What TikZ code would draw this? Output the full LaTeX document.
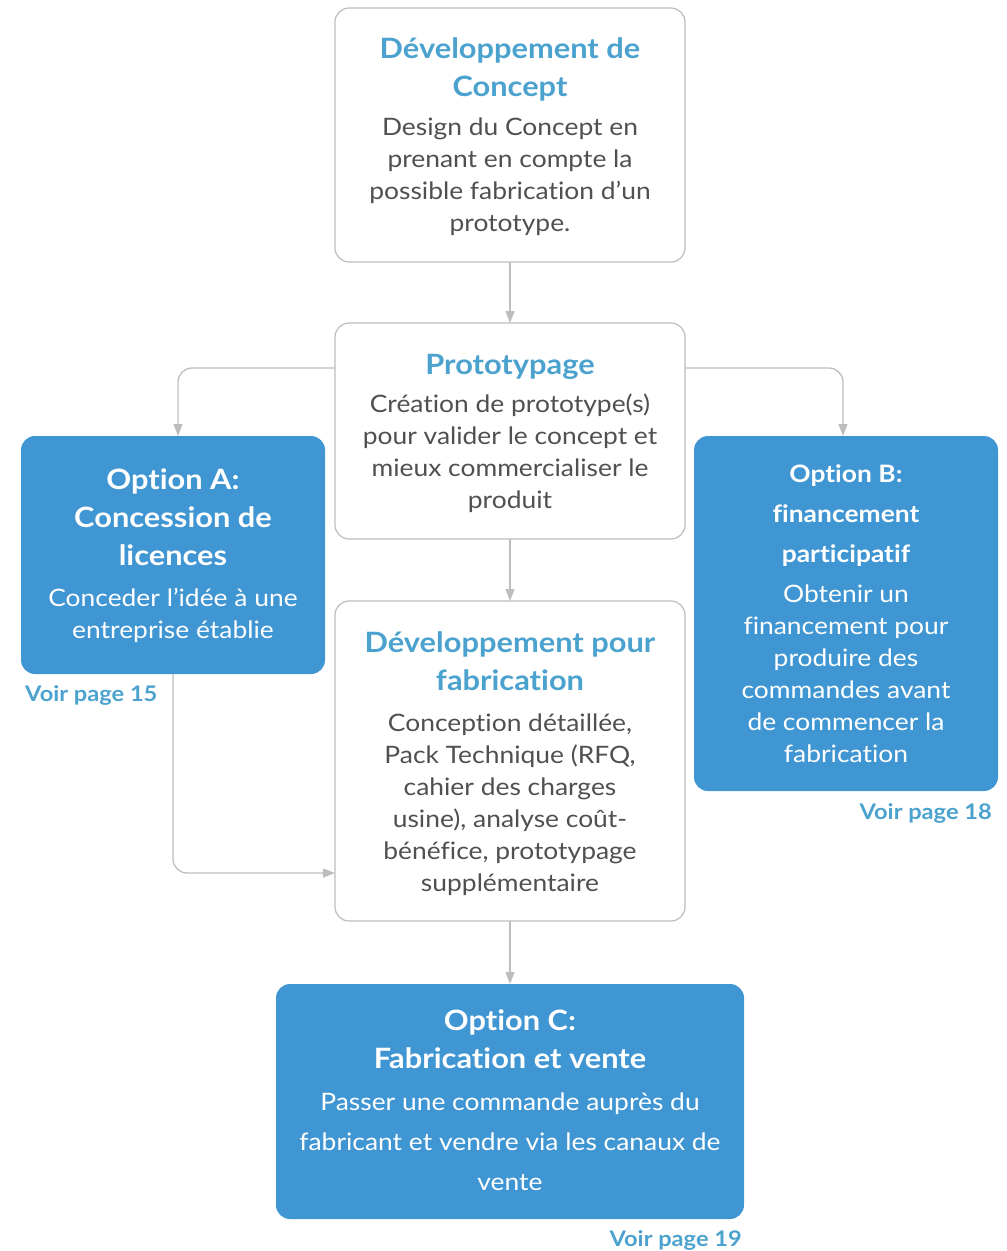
\documentclass[tikz,border=0pt]{standalone}
\usepackage{fontspec}
\setmainfont{Lato}[FakeStretch=1.1, Ligatures=NoCommon]
\usetikzlibrary{arrows.meta,calc}
\definecolor{boxblue}{HTML}{3F96D2}
\definecolor{titleblue}{HTML}{4CA2CE}
\definecolor{bodygray}{HTML}{505050}
\definecolor{linegray}{HTML}{BDBDBD}
\newcommand\ls{\rule[-0.2em]{0pt}{1.1em}}
\begin{document}
\begin{tikzpicture}[x=1pt,y=-1pt,
  wbox/.style={draw=linegray, line width=1.2pt, rounded corners=14pt, fill=white, inner sep=0pt, outer sep=0pt, anchor=north west},
  bbox/.style={fill=boxblue, rounded corners=14pt, inner sep=0pt, outer sep=0pt, anchor=north west},
  wtitle/.style={align=center, inner sep=0pt, text=titleblue, font=\fontsize{28}{38}\selectfont\bfseries},
  wbody/.style={align=center, inner sep=0pt, text=bodygray, font=\fontsize{24}{32}\selectfont},
  btitle/.style={align=center, inner sep=0pt, text=white, font=\fontsize{28}{38}\selectfont\bfseries},
  bbody/.style={align=center, inner sep=0pt, text=white, font=\fontsize{24}{32}\selectfont},
  voir/.style={inner sep=0pt, text=titleblue, font=\fontsize{21.5}{26}\selectfont\bfseries},
  conn/.style={draw=linegray, line width=1.3pt, -{Triangle[width=9pt,length=12pt]}}]
\useasboundingbox (0,0) rectangle (1007,1251);

% boxes
\node[wbox, minimum width=350pt, minimum height=254pt] (concept) at (335,8) {};
\node[wbox, minimum width=350pt, minimum height=216pt] (proto) at (335,323) {};
\node[wbox, minimum width=350pt, minimum height=320pt] (fab) at (335,601) {};
\node[bbox, minimum width=304pt, minimum height=238pt] (A) at (21,436) {};
\node[bbox, minimum width=304pt, minimum height=355pt] (B) at (694,436) {};
\node[bbox, minimum width=468pt, minimum height=235pt] (C) at (276,984) {};

% texts
\node[wtitle] (t1) at (510,68) {\ls Développement de\\Concept\ls};
\node[wbody] (b1) at (510,175) {\ls Design du Concept en\\prenant en compte la\\possible fabrication d’un\\prototype.\ls};
\node[wtitle] (t2) at (510,365) {\ls Prototypage\ls};
\node[wbody] (b2) at (510,452) {\ls Création de prototype(s)\\pour valider le concept et\\mieux commercialiser le\\produit\ls};
\node[wtitle] (t3) at (510,662) {\ls Développement pour\\fabrication\ls};
\node[wbody] (b3) at (510,803) {\ls Conception détaillée,\\Pack Technique (RFQ,\\cahier des charges\\usine), analyse coût-\\bénéfice, prototypage\\supplémentaire\ls};
\node[btitle] (tA) at (173,518) {\ls Option A:\\Concession de\\licences\ls};
\node[bbody] (bA) at (173,614) {\ls Conceder l’idée à une\\entreprise établie\ls};
\node[btitle, font=\fontsize{24}{40}\selectfont\bfseries] (tB) at (846,514) {\ls Option B:\\financement\\participatif\ls};
\node[bbody] (bB) at (846,674) {\ls Obtenir un\\financement pour\\produire des\\commandes avant\\de commencer la\\fabrication\ls};
\node[btitle] (tC) at (510,1040) {\ls Option C:\\Fabrication et vente\ls};
\node[bbody, font=\fontsize{24}{40}\selectfont] (bC) at (510,1142) {\ls Passer une commande auprès du\\fabricant et vendre via les canaux de\\vente\ls};
\node[voir, anchor=west] (vA) at (25,695) {Voir page 15};
\node[voir, anchor=east] (vB) at (992,813) {Voir page 18};
\node[voir, anchor=east] (vC) at (742,1240) {Voir page 19};

% connectors
\coordinate (lvl) at (0,368);
\coordinate (alvl) at (0,873);
\draw[conn] (concept.south) -- (proto.north);
\draw[conn] (proto.south) -- (fab.north);
\draw[conn] (fab.south) -- (C.north);
\draw[conn, rounded corners=14pt] (proto.west |- lvl) -| ($(A.north)+(5,0)$);
\draw[conn, rounded corners=14pt] (proto.east |- lvl) -| ($(B.north)+(-3,0)$);
\draw[conn, rounded corners=14pt] (A.south) |- (fab.west |- alvl);
\end{tikzpicture}
\end{document}
